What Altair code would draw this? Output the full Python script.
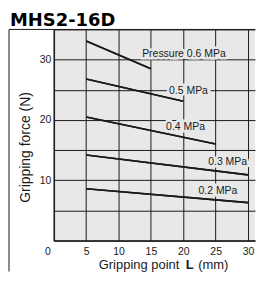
import altair as alt
import pandas as pd

# ---- data ----
chart_title = "MHS2-16D"
series = ["0.6 MPa", "0.5 MPa", "0.4 MPa", "0.3 MPa", "0.2 MPa"]
L_start = [5, 5, 5, 5, 5]
L_end = [15, 20, 25, 30, 30]
F_start = [33.1, 26.8, 20.5, 14.2, 8.6]
F_end = [28.5, 23.1, 16.0, 10.9, 6.3]
label_text = ["Pressure 0.6 MPa", "0.5 MPa", "0.4 MPa", "0.3 MPa", "0.2 MPa"]
label_L = [20.1, 20.8, 20.35, 26.85, 25.35]
label_F = [30.9, 24.8, 18.9, 12.95, 8.3]
x_ticks = [0, 5, 10, 15, 20, 25, 30]
y_ticks = [0, 5, 10, 15, 20, 25, 30, 35]

W, H = 202, 212
BG = "#e8e8e8"
INK = "#1a1a1a"
FONT = "Liberation Sans"

rows = []
for s, x0, x1, y0, y1 in zip(series, L_start, L_end, F_start, F_end):
    rows.append({"series": s, "L": x0, "F": y0})
    rows.append({"series": s, "L": x1, "F": y1})
lines_df = pd.DataFrame(rows)
labels_df = pd.DataFrame({"text": label_text, "L": label_L, "F": label_F})
one = pd.DataFrame({"a": [0]})

xscale = alt.Scale(domain=[0, 31.08], nice=False, zero=False)
yscale = alt.Scale(domain=[0, 35], nice=False)

x_axis = alt.Axis(
    values=x_ticks, title=None, grid=True, gridColor=INK, gridOpacity=1, gridWidth=1,
    tickSize=0, domainColor=INK, domainWidth=1.5, labelFont=FONT, labelFontSize=10.5,
    labelColor=INK, labelPadding=6,
    labelExpr="datum.value == 0 ? '' : datum.label",
)
y_axis = alt.Axis(
    values=y_ticks, grid=True, gridColor=INK, gridOpacity=1, gridWidth=1,
    tickSize=0, domainColor=INK, domainWidth=1.5, labelFont=FONT, labelFontSize=10.5,
    labelColor=INK, labelPadding=3,
    labelExpr="(datum.value % 10 == 0 && datum.value > 0 && datum.value < 35) ? datum.label : ''",
    title="Gripping force  (N)", titleFont=FONT, titleFontSize=14, titleFontWeight="normal",
    titleColor=INK, titleAngle=270, titleX=-28, titleY=118, titleAlign="center",
    titleBaseline="middle",
)

X = alt.X("L:Q", scale=xscale, axis=x_axis)
Y = alt.Y("F:Q", scale=yscale, axis=y_axis)

lines_axes = alt.Chart(lines_df).mark_line(color=INK, strokeWidth=1.6).encode(
    x=X, y=Y, detail="series:N",
)
halo = alt.Chart(labels_df).mark_text(
    font=FONT, fontSize=10.5, color=BG, stroke=BG, strokeWidth=5, baseline="middle"
).encode(x=X, y=Y, text="text:N")
lines_top = alt.Chart(lines_df).mark_line(color=INK, strokeWidth=1.6).encode(
    x=X, y=Y, detail="series:N",
)
labels = alt.Chart(labels_df).mark_text(
    font=FONT, fontSize=10.5, color=INK, baseline="middle"
).encode(x=X, y=Y, text="text:N")

zero_label = alt.Chart(one).mark_text(
    text="0", align="center", baseline="top", font=FONT, fontSize=10.5, color=INK
).encode(x=alt.value(-6), y=alt.value(H + 6))

frame_left = alt.Chart(one).mark_rule(color=INK, strokeWidth=1).encode(
    x=alt.value(-45), y=alt.value(0), y2=alt.value(243)
)
frame_top = alt.Chart(one).mark_rule(color=INK, strokeWidth=1).encode(
    x=alt.value(-45), x2=alt.value(W), y=alt.value(0)
)

title = alt.Chart(one).mark_text(
    text=chart_title, align="left", baseline="alphabetic", font="DejaVu Sans",
    fontWeight="bold", fontSize=18, color="#000"
).encode(x=alt.value(-44), y=alt.value(-3))

xt1 = alt.Chart(one).mark_text(
    text="Gripping point", align="right", baseline="middle", font=FONT, fontSize=13, color=INK
).encode(x=alt.value(126), y=alt.value(237))
xt2 = alt.Chart(one).mark_text(
    text="L", align="center", baseline="middle", font=FONT, fontSize=13, fontWeight="bold", color=INK
).encode(x=alt.value(136.5), y=alt.value(237))
xt3 = alt.Chart(one).mark_text(
    text="(mm)", align="left", baseline="middle", font=FONT, fontSize=13, color=INK
).encode(x=alt.value(145), y=alt.value(237))

chart = alt.layer(
    lines_axes, halo, lines_top, labels, zero_label, frame_left, frame_top, title, xt1, xt2, xt3
).properties(
    width=W, height=H, padding={"top": 4, "left": 0, "right": 0, "bottom": 0},
    background="white"
).configure_view(fill=BG, stroke=None)

chart.save("out.html", embed_options={"renderer": "svg", "actions": False})
